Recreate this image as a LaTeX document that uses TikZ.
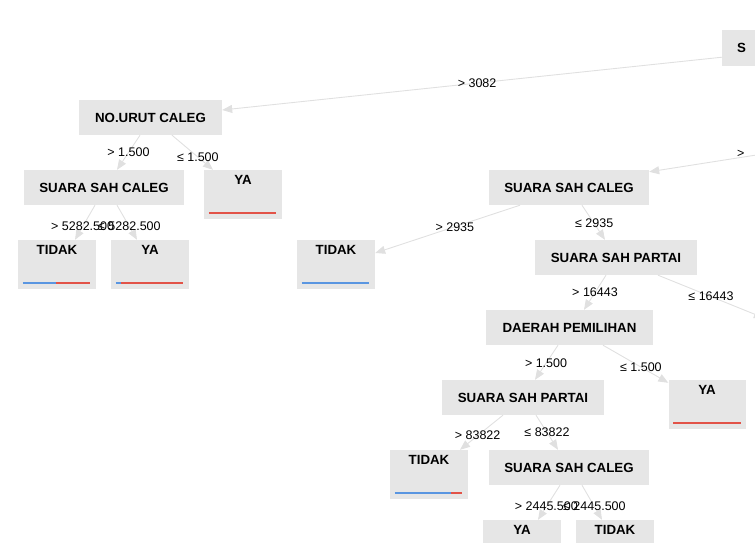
\documentclass[tikz,border=0pt]{standalone}
\usepackage{fontspec}
\setmainfont{Liberation Sans}
\usetikzlibrary{arrows.meta,calc}
\definecolor{boxgray}{RGB}{230,230,230}
\definecolor{edgegray}{RGB}{224,224,224}
\definecolor{barred}{RGB}{226,83,72}
\definecolor{barblue}{RGB}{90,150,225}
\begin{document}
\begin{tikzpicture}[x=1pt,y=-1pt,
  splitbox/.style={fill=boxgray, minimum height=35pt, inner sep=0pt, font=\fontsize{13.3}{15}\selectfont\bfseries},
  leafbox/.style={fill=boxgray, minimum width=78pt, minimum height=49pt, inner sep=0pt},
  ttl/.style={font=\fontsize{13.3}{15}\selectfont\bfseries, inner sep=0pt},
  edge/.style={draw=edgegray, line width=0.9pt, -{Triangle[length=10pt,width=8pt,fill=edgegray]}},
  lbl/.style={font=\fontsize{12.5}{14}\selectfont, inner sep=0pt, text=black},
  rbar/.style={draw=barred, line width=1.6pt},
  bbar/.style={draw=barblue, line width=1.6pt}]
\useasboundingbox (0,0) rectangle (755,543);
\clip (0,0) rectangle (755,543);

% split nodes
\node[splitbox, anchor=north west, minimum width=160pt, minimum height=36pt, text width=130pt, align=left, inner xsep=15pt] (root) at (722,30) {S};
\node[splitbox, minimum width=143pt] (nourut) at (150.5,117.5) {NO.URUT CALEG};
\node[splitbox, minimum width=160pt] (sscL) at (104,187.5) {SUARA SAH CALEG};
\node[splitbox, minimum width=160pt] (sscR) at (569,187.5) {SUARA SAH CALEG};
\node[splitbox, minimum width=162pt] (sspA) at (616,257.5) {SUARA SAH PARTAI};
\node[splitbox, minimum width=167pt] (daerah) at (569.5,327.5) {DAERAH PEMILIHAN};
\node[splitbox, minimum width=162pt] (sspB) at (523,397.5) {SUARA SAH PARTAI};
\node[splitbox, minimum width=160pt] (sscC) at (569,467.5) {SUARA SAH CALEG};

% leaf nodes
\node[leafbox] (yaA) at (243,194.5) {};
\node[leafbox] (tidakA) at (57,264.5) {};
\node[leafbox] (yaB) at (150,264.5) {};
\node[leafbox] (tidakB) at (336,264.5) {};
\node[leafbox, minimum width=77pt] (yaC) at (707,404.5) {};
\node[leafbox] (tidakC) at (429,474.5) {};
\node[leafbox] (yaD) at (522,544.5) {};
\node[leafbox] (tidakD) at (615,544.5) {};

\node[ttl] (yaAt) at ([yshift=-10pt]yaA.north) {YA};
\node[ttl] (tidakAt) at ([yshift=-10pt]tidakA.north) {TIDAK};
\node[ttl] (yaBt) at ([yshift=-10pt]yaB.north) {YA};
\node[ttl] (tidakBt) at ([yshift=-10pt]tidakB.north) {TIDAK};
\node[ttl] (yaCt) at ([yshift=-10pt]yaC.north) {YA};
\node[ttl] (tidakCt) at ([yshift=-10pt]tidakC.north) {TIDAK};
\node[ttl] (yaDt) at ([yshift=-10pt]yaD.north) {YA};
\node[ttl] (tidakDt) at ([yshift=-10pt]tidakD.north) {TIDAK};

% bars
\draw[rbar] ([xshift=5pt,yshift=6pt]yaA.south west) -- ([xshift=-6pt,yshift=6pt]yaA.south east);
\draw[bbar] ([xshift=5pt,yshift=6pt]tidakA.south west) -- ([xshift=38pt,yshift=6pt]tidakA.south west);
\draw[rbar] ([xshift=38pt,yshift=6pt]tidakA.south west) -- ([xshift=-6pt,yshift=6pt]tidakA.south east);
\draw[bbar] ([xshift=5pt,yshift=6pt]yaB.south west) -- ([xshift=10pt,yshift=6pt]yaB.south west);
\draw[rbar] ([xshift=10pt,yshift=6pt]yaB.south west) -- ([xshift=-6pt,yshift=6pt]yaB.south east);
\draw[bbar] ([xshift=5pt,yshift=6pt]tidakB.south west) -- ([xshift=-6pt,yshift=6pt]tidakB.south east);
\draw[rbar] ([xshift=5pt,yshift=6pt]yaC.south west) -- ([xshift=-5pt,yshift=6pt]yaC.south east);
\draw[bbar] ([xshift=5pt,yshift=6pt]tidakC.south west) -- ([xshift=61pt,yshift=6pt]tidakC.south west);
\draw[rbar] ([xshift=61pt,yshift=6pt]tidakC.south west) -- ([xshift=-6pt,yshift=6pt]tidakC.south east);

% off-canvas ends
\coordinate (offA) at (884,135);
\coordinate (offB) at (764,318);

% edges
\draw[edge] ([yshift=-9pt]root.west) -- node[lbl,pos=0.49]{> 3082} ([yshift=7.5pt]nourut.east);
\draw[edge] (offA) -- node[lbl,pos=0.61,yshift=4pt]{>} ([yshift=-2pt]sscR.north east);
\draw[edge] ([xshift=-49pt]sscR.south) -- node[lbl,pos=0.45]{> 2935} ([yshift=11.5pt]tidakB.east);
\draw[edge] ([xshift=13pt]sscR.south) -- node[lbl,pos=0.53]{≤ 2935} ([xshift=-11pt]sspA.north);
\draw[edge] ([xshift=-10pt]sspA.south) -- node[lbl,pos=0.5]{> 16443} ([xshift=14.5pt]daerah.north);
\draw[edge] ([xshift=42pt]sspA.south) -- node[lbl,pos=0.5]{≤ 16443} (offB);
\draw[edge] ([xshift=-11.5pt]daerah.south) -- node[lbl,pos=0.52]{> 1.500} ([xshift=12pt]sspB.north);
\draw[edge] ([xshift=33.5pt]daerah.south) -- node[lbl,pos=0.58]{≤ 1.500} ([yshift=-3pt]yaC.north west);
\draw[edge] ([xshift=-20pt]sspB.south) -- node[lbl,pos=0.59]{> 83822} ([xshift=31pt]tidakC.north);
\draw[edge] ([xshift=13pt]sspB.south) -- node[lbl,pos=0.5]{≤ 83822} ([xshift=-11pt]sscC.north);
\draw[edge] ([xshift=-9pt]sscC.south) -- node[lbl,pos=0.62]{> 2445.500} ([xshift=16pt]yaD.north);
\draw[edge] ([xshift=13pt]sscC.south) -- node[lbl,pos=0.62]{≤ 2445.500} ([xshift=-13pt]tidakD.north);
\draw[edge] ([xshift=-10.5pt]nourut.south) -- node[lbl,pos=0.5]{> 1.500} ([xshift=13pt]sscL.north);
\draw[edge] ([xshift=21.5pt]nourut.south) -- node[lbl,pos=0.63]{≤ 1.500} ([xshift=-30pt]yaA.north);
\draw[edge] ([xshift=-9pt]sscL.south) -- node[lbl,pos=0.62]{> 5282.500} ([xshift=18pt]tidakA.north);
\draw[edge] ([xshift=13pt]sscL.south) -- node[lbl,pos=0.62]{≤ 5282.500} ([xshift=-13pt]yaB.north);
\end{tikzpicture}
\end{document}
